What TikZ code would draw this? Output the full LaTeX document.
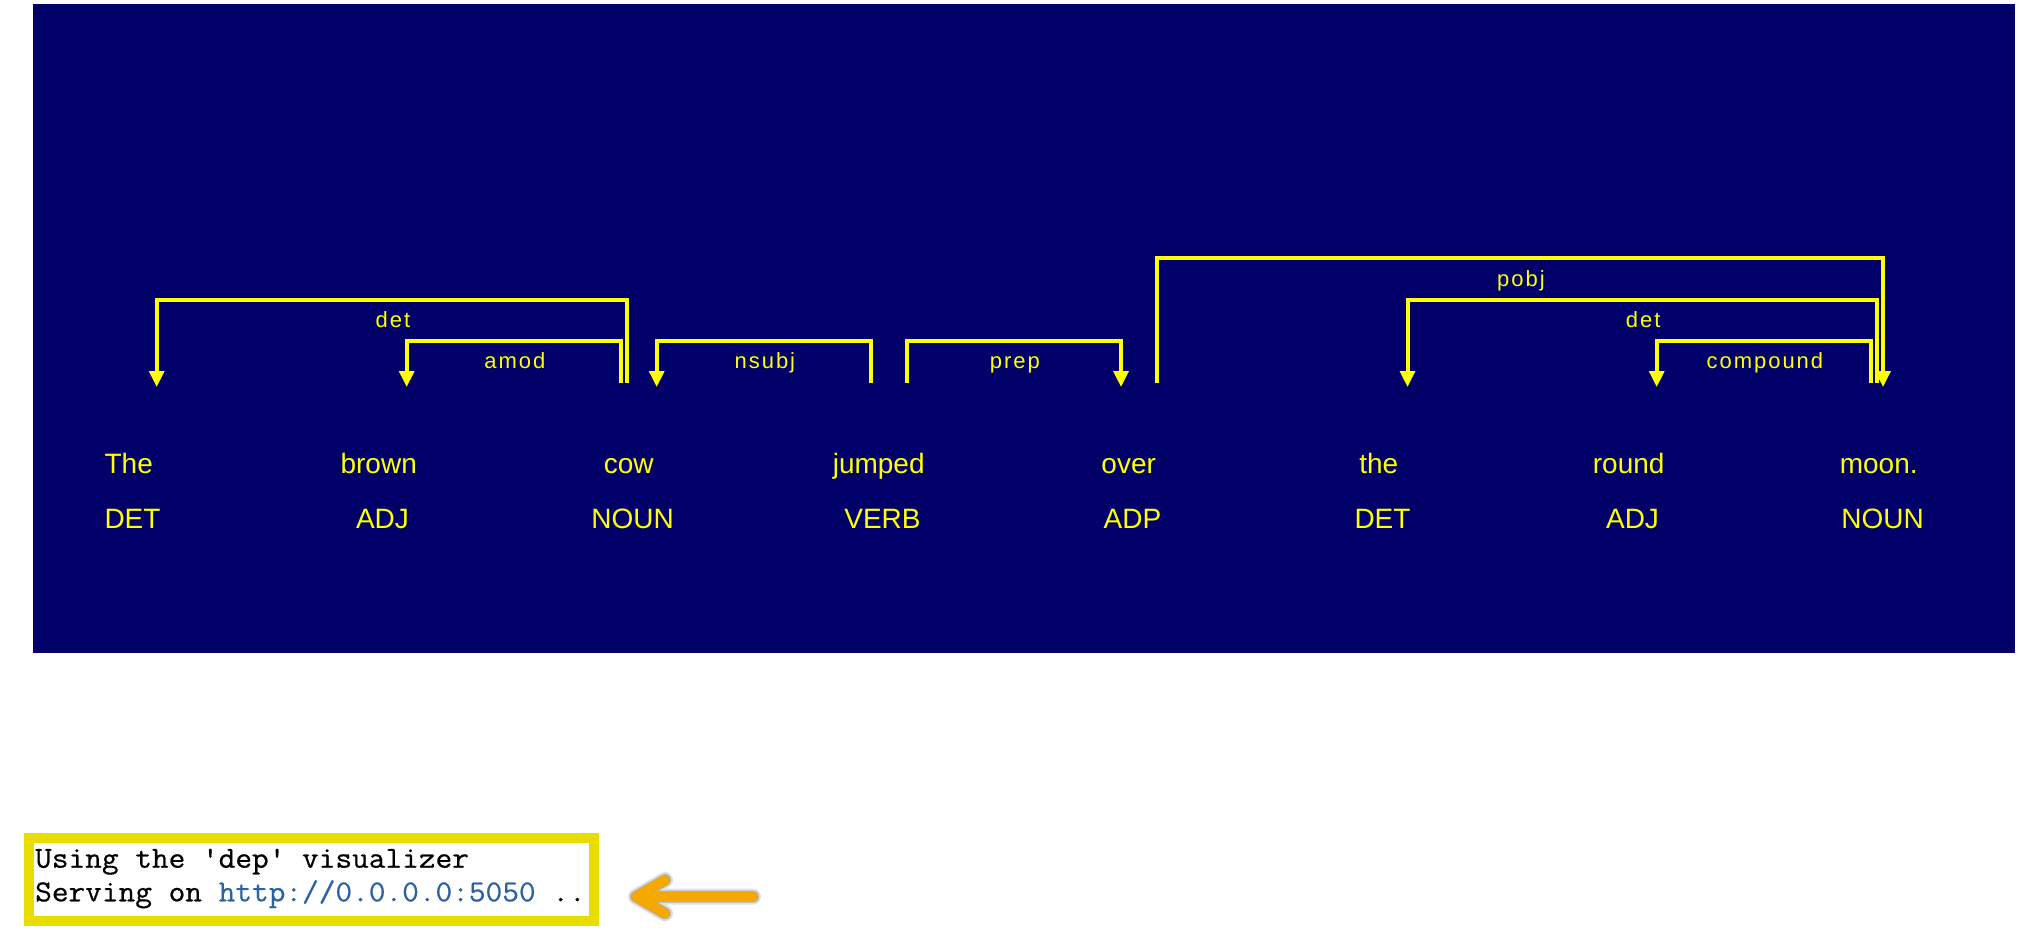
\documentclass[tikz,border=0pt]{standalone}
\usepackage{fontspec}
\setmainfont{Liberation Sans}
\newfontfamily\lblfont[LetterSpace=9]{Liberation Sans}
\setmonofont[FakeStretch=1.062, FakeBold=0.6]{Latin Modern Mono}
\definecolor{bgblue}{RGB}{0,0,104}
\definecolor{arcyellow}{RGB}{255,255,0}
\definecolor{framey}{RGB}{232,220,0}
\definecolor{linkblue}{RGB}{43,98,166}
\definecolor{arroworange}{RGB}{245,168,0}
\begin{document}
\begin{tikzpicture}[x=1pt,y=-1pt,
  word/.style={anchor=base, text=arcyellow, font=\fontsize{28}{28}\selectfont, inner sep=0pt},
  tagtext/.style={word},
  arclabel/.style={anchor=base, text=arcyellow, font=\lblfont\fontsize{22}{22}\selectfont, inner sep=0pt},
  dep/.style={draw=arcyellow, line width=4pt, line join=miter, line cap=butt},
  arrowhead/.style={fill=arcyellow},
  codetext/.style={anchor=base west, inner sep=0pt, font=\ttfamily\fontsize{30.5}{33.7}\selectfont},
  orangearrow/.style={line width=10pt, line cap=round, line join=round},
]
\useasboundingbox (0,0) rectangle (2036,942);
\fill[white] (0,0) rectangle (2036,942);
\fill[bgblue] (33,4) rectangle (2015,653);

% words
\node[word] (w1) at (128.7,473) {The};
\node[word] (w2) at (378.7,473) {brown};
\node[word] (w3) at (628.7,473) {cow};
\node[word] (w4) at (878.7,473) {jumped};
\node[word] (w5) at (1128.7,473) {over};
\node[word] (w6) at (1378.7,473) {the};
\node[word] (w7) at (1628.7,473) {round};
\node[word] (w8) at (1878.7,473) {moon.};
% tags
\node[tagtext] (t1) at (132.5,528.5) {DET};
\node[tagtext] (t2) at (382.5,528.5) {ADJ};
\node[tagtext] (t3) at (632.5,528.5) {NOUN};
\node[tagtext] (t4) at (882.5,528.5) {VERB};
\node[tagtext] (t5) at (1132.5,528.5) {ADP};
\node[tagtext] (t6) at (1382.5,528.5) {DET};
\node[tagtext] (t7) at (1632.5,528.5) {ADJ};
\node[tagtext] (t8) at (1882.5,528.5) {NOUN};

% arc levels
\coordinate (L1) at (0,341.3);
\coordinate (L2) at (0,299.7);
\coordinate (L3) at (0,258);

% arc start points and arrow tips
\coordinate (det1s) at (627,382.7);   \coordinate (det1e) at (156.7,386.7);
\coordinate (amods) at (621,382.7);   \coordinate (amode) at (406.7,386.7);
\coordinate (nsubjs) at (871,382.7);  \coordinate (nsubje) at (656.7,386.7);
\coordinate (preps) at (906.7,382.7); \coordinate (prepe) at (1121,386.7);
\coordinate (pobjs) at (1156.7,382.7);\coordinate (pobje) at (1883,386.7);
\coordinate (det2s) at (1877,382.7);  \coordinate (det2e) at (1407.5,386.7);
\coordinate (comps) at (1871,382.7);  \coordinate (compe) at (1656.7,386.7);
\coordinate (hb) at (0,372);

\draw[dep] (det1s) -- (det1s |- L2) -| (det1e |- hb);
\fill[arrowhead] (det1e) -- ++(-8,-15.7) -- ++(16,0) -- cycle;
\draw[dep] (amods) -- (amods |- L1) -| (amode |- hb);
\fill[arrowhead] (amode) -- ++(-8,-15.7) -- ++(16,0) -- cycle;
\draw[dep] (nsubjs) -- (nsubjs |- L1) -| (nsubje |- hb);
\fill[arrowhead] (nsubje) -- ++(-8,-15.7) -- ++(16,0) -- cycle;
\draw[dep] (preps) -- (preps |- L1) -| (prepe |- hb);
\fill[arrowhead] (prepe) -- ++(-8,-15.7) -- ++(16,0) -- cycle;
\draw[dep] (pobjs) -- (pobjs |- L3) -| (pobje |- hb);
\fill[arrowhead] (pobje) -- ++(-8,-15.7) -- ++(16,0) -- cycle;
\draw[dep] (det2s) -- (det2s |- L2) -| (det2e |- hb);
\fill[arrowhead] (det2e) -- ++(-8,-15.7) -- ++(16,0) -- cycle;
\draw[dep] (comps) -- (comps |- L1) -| (compe |- hb);
\fill[arrowhead] (compe) -- ++(-8,-15.7) -- ++(16,0) -- cycle;

% arc labels
\node[arclabel] (ldet1) at (392.9,327.2) {det};
\node[arclabel] (lamod) at (514.9,368.5) {amod};
\node[arclabel] (lnsubj) at (764.9,368.5) {nsubj};
\node[arclabel] (lprep) at (1014.9,368.5) {prep};
\node[arclabel] (lpobj) at (1520.9,286) {pobj};
\node[arclabel] (ldet2) at (1643.2,327.2) {det};
\node[arclabel] (lcomp) at (1764.9,368.5) {compound};

% console output box
\draw[framey, line width=10pt] (29,838) rectangle (594.3,921);
\node[codetext] (code1) at (35,867.7) {Using the 'dep' visualizer};
\node[codetext] (code2) at (35,901.3) {Serving on \textcolor{linkblue}{http://0.0.0.0:5050} ..};

% orange pointer arrow
\coordinate (oatail) at (753,896.7);
\coordinate (oatip) at (636,896.7);
\coordinate (oaup) at (665,880);
\coordinate (oadown) at (665,913.4);
\begin{scope}[shift={(3,5)}]
  \draw[orangearrow, black, opacity=0.12, line width=16pt] (oatail) -- (oatip) (oaup) -- (oatip) -- (oadown);
  \draw[orangearrow, black, opacity=0.2, line width=12pt] (oatail) -- (oatip) (oaup) -- (oatip) -- (oadown);
\end{scope}
\draw[orangearrow, arroworange] (oatail) -- (oatip) (oaup) -- (oatip) -- (oadown);
\end{tikzpicture}
\end{document}
